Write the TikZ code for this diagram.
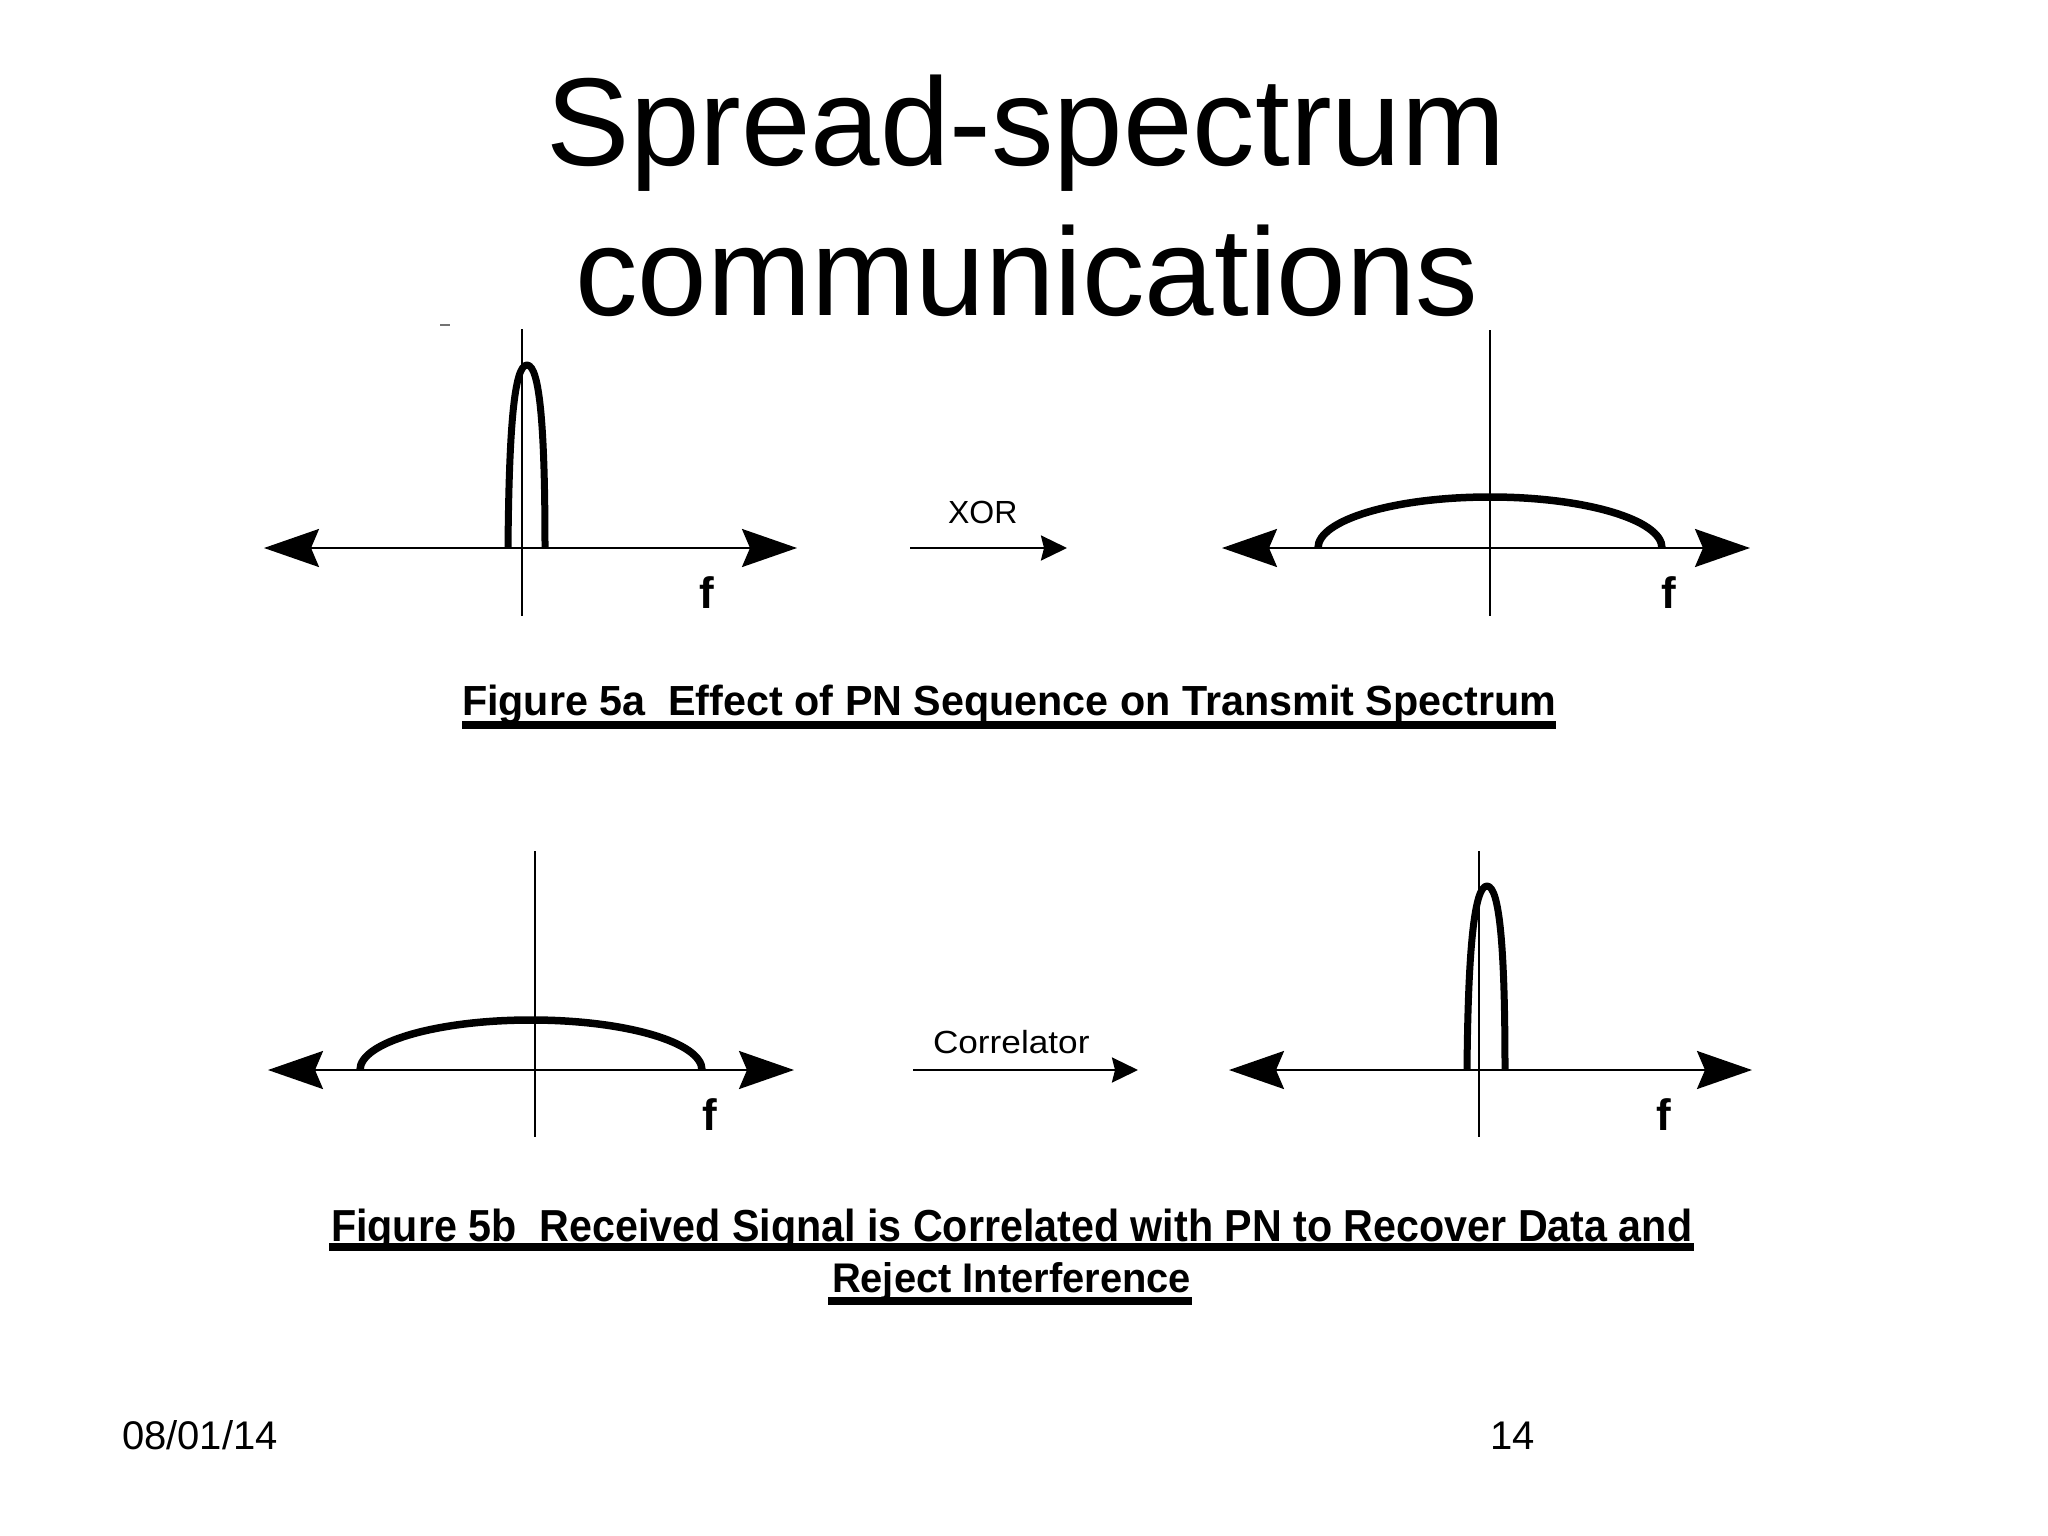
\documentclass[tikz,border=0pt]{standalone}
\usepackage{fontspec}
\setmainfont{Liberation Sans}
\usepackage{graphicx}
\usetikzlibrary{arrows.meta}
\begin{document}
\begin{tikzpicture}[x=1pt,y=-1pt,
  bigtip/.tip={Stealth[length=55pt,width=38pt,inset=8pt]},
  axisline/.style={line width=2.5pt, bigtip-bigtip},
  vline/.style={line width=2pt},
  narrowspec/.style={line width=7pt, line join=round},
  widespec/.style={line width=7.5pt},
  oparrow/.style={line width=2.5pt, -{Stealth[length=26pt,width=25pt,inset=3pt]}},
  uline/.style={line width=8pt},
  txt/.style={inner sep=0pt, outer sep=0pt},
  titletxt/.style={txt, anchor=base, font=\fontsize{125}{150}\selectfont},
  captxt/.style={txt, anchor=base west, font=\bfseries},
  optxt/.style={txt, anchor=base west, font=\fontsize{32}{36}\selectfont},
  ftxt/.style={txt, anchor=base, font=\fontsize{44}{44}\selectfont\bfseries},
  foot/.style={txt, anchor=base west, font=\fontsize{40}{44}\selectfont},
]
\useasboundingbox (0,0) rectangle (2048,1536);
\fill[white] (0,0) rectangle (2048,1536);

% title
\node[titletxt] (title1) at (1026,165) {Spread-spectrum};
\node[titletxt] (title2) at (1027,315) {communications};

% stray mark
\draw[line width=2pt, black!55] (440,325) -- (450,325);

% ---------- top left: narrow spectrum
\coordinate (tlL) at (264,548);
\coordinate (tlR) at (797,548);
\coordinate (tlT) at (522,329);
\coordinate (tlB) at (522,616);
\draw[axisline] (tlL) -- (tlR);
\draw[vline] (tlT) -- (tlB);
\draw[narrowspec] (508,548) .. controls (509,430) and (514,365) .. (527,365)
                  .. controls (540,365) and (545,430) .. (545,548);
\node[ftxt] (tlf) at (707,608) {f};

% XOR operator
\coordinate (xorS) at (910,548);
\coordinate (xorE) at (1067,548);
\draw[oparrow] (xorS) -- (xorE);
\node[optxt] (xorlab) at (948,523) {XOR};

% ---------- top right: spread spectrum
\coordinate (trL) at (1222,548);
\coordinate (trR) at (1750,548);
\coordinate (trT) at (1490,330);
\coordinate (trB) at (1490,616);
\draw[axisline] (trL) -- (trR);
\draw[vline] (trT) -- (trB);
\draw[widespec] (1318,548) arc[start angle=180, end angle=360, x radius=172, y radius=51];
\node[ftxt] (trf) at (1669,608) {f};

% caption 5a
\node[captxt] (cap5a) at (462,715) {\resizebox{1094pt}{30.5pt}{Figure 5a\ \ Effect of PN Sequence on Transmit Spectrum}};
\draw[uline] (462,725) -- (1556,725);

% ---------- bottom left: spread spectrum
\coordinate (blL) at (268,1070);
\coordinate (blR) at (794,1070);
\coordinate (blT) at (535,851);
\coordinate (blB) at (535,1137);
\draw[axisline] (blL) -- (blR);
\draw[vline] (blT) -- (blB);
\draw[widespec] (360,1070) arc[start angle=180, end angle=360, x radius=171, y radius=50];
\node[ftxt] (blf) at (710,1130) {f};

% Correlator operator
\coordinate (corS) at (913,1070);
\coordinate (corE) at (1138,1070);
\draw[oparrow] (corS) -- (corE);
\node[optxt] (corlab) at (933,1053) {\scalebox{1.1}[1]{Correlator}};

% ---------- bottom right: narrow spectrum
\coordinate (brL) at (1229,1070);
\coordinate (brR) at (1752,1070);
\coordinate (brT) at (1479,851);
\coordinate (brB) at (1479,1137);
\draw[axisline] (brL) -- (brR);
\draw[vline] (brT) -- (brB);
\draw[narrowspec] (1467,1070) .. controls (1468,952) and (1474,886) .. (1487,886)
                  .. controls (1500,886) and (1505,952) .. (1505,1070);
\node[ftxt] (brf) at (1664,1130) {f};

% caption 5b
\node[captxt] (cap5b1) at (331,1241) {\resizebox{1361pt}{32.5pt}{Figure 5b\ \ Received Signal is Correlated with PN to Recover Data and}};
\draw[uline] (329,1247) -- (1694,1247);
\node[captxt] (cap5b2) at (832,1292) {\resizebox{359pt}{30pt}{Reject Interference}};
\draw[uline] (828,1301) -- (1192,1301);

% footer
\node[foot] (date) at (122,1449) {08/01/14};
\node[foot] (pagenum) at (1490,1449) {14};
\end{tikzpicture}
\end{document}
